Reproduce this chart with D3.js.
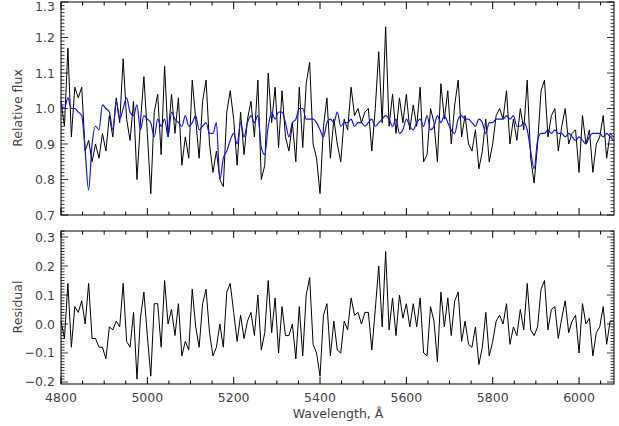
<!DOCTYPE html>
<html><head><meta charset="utf-8">
<script src="https://cdn.jsdelivr.net/npm/d3@7"></script>
<style>body{margin:0;background:#fff}svg{display:block}text{font-family:"DejaVu Sans",sans-serif;fill:#444}</style>
</head><body><svg id="c" width="619" height="426"></svg>
<script>
const wlStart = 4800, wlStep = 8;
const flux = [
1.02,0.95,1.17,0.92,1.06,1.03,1.06,0.88,0.91,0.85,
0.90,0.86,0.93,0.88,0.98,0.92,1.03,0.96,1.14,0.97,
0.91,1.02,0.80,0.96,1.09,0.93,0.76,0.99,1.04,0.87,
1.12,0.92,1.04,0.93,1.03,0.84,0.92,0.86,1.08,0.97,
0.86,1.02,1.08,0.90,0.82,0.88,0.80,0.78,0.99,1.05,
0.97,0.84,0.99,0.87,0.97,1.02,0.92,1.08,0.80,0.84,
1.10,0.96,1.06,0.89,1.05,0.92,0.88,0.96,0.85,1.06,
0.89,1.07,1.13,0.90,0.86,0.76,0.95,1.03,0.86,0.97,
0.90,0.85,0.97,0.94,1.06,0.98,1.00,0.96,0.99,1.00,
0.88,1.00,1.16,0.96,1.23,0.95,1.04,0.93,1.03,0.96,
1.04,0.94,1.01,0.95,1.06,0.85,0.87,1.00,0.96,0.85,
1.07,0.97,1.05,0.90,1.01,1.08,0.92,0.98,0.90,0.88,
0.94,0.83,0.88,0.97,0.85,0.90,0.98,1.00,0.97,1.05,
0.90,0.97,0.91,1.00,0.94,1.08,0.86,0.79,0.90,1.05,
1.08,0.92,0.98,1.00,0.88,0.95,1.00,0.90,0.93,0.94,
0.82,0.98,0.90,0.94,0.82,0.90,0.92,0.98,0.86,0.93,
0.92];
const model = [
1.01,1.00,1.03,1.00,1.00,0.99,0.98,0.88,0.77,0.90,
0.95,0.94,1.01,1.00,0.99,0.94,1.02,0.97,1.00,1.03,
0.99,0.98,1.01,0.94,0.98,0.97,0.96,0.92,0.97,0.95,
0.97,0.92,0.99,0.97,0.96,0.95,0.98,0.95,0.96,0.98,
0.94,0.95,0.96,0.93,0.93,0.96,0.80,0.86,0.88,0.91,
0.93,0.90,0.96,0.92,0.96,0.98,0.96,0.98,0.89,0.87,
0.95,0.99,0.97,0.99,0.99,0.96,0.92,0.96,0.97,1.00,
1.00,0.97,0.97,0.97,0.96,0.94,0.92,0.96,0.97,0.96,
0.99,0.95,0.96,0.96,0.97,0.95,0.96,0.96,0.95,0.96,
0.97,0.95,0.96,0.97,0.98,0.97,0.95,0.97,0.93,0.94,
0.97,0.95,0.94,0.96,0.97,0.95,0.98,0.94,0.95,0.98,
0.96,0.98,0.96,0.94,0.93,0.97,0.98,0.97,0.97,0.96,
0.95,0.97,0.96,0.93,0.96,0.96,0.97,0.97,0.97,0.98,
0.97,0.98,0.95,0.95,0.96,0.94,0.88,0.83,0.91,0.93,
0.93,0.94,0.93,0.94,0.93,0.93,0.92,0.93,0.92,0.91,
0.92,0.91,0.90,0.92,0.93,0.93,0.93,0.92,0.93,0.92,
0.91];
const residual = [
0.01,-0.05,0.14,-0.08,0.06,0.04,0.08,0.00,0.14,-0.05,
-0.05,-0.08,-0.08,-0.12,-0.01,-0.02,0.01,-0.01,0.14,-0.06,
-0.08,0.04,-0.19,0.02,0.11,-0.04,-0.18,0.07,0.07,-0.08,
0.15,0.00,0.05,-0.04,0.07,-0.11,-0.06,-0.09,0.12,-0.01,
-0.08,0.07,0.12,-0.03,-0.11,-0.08,0.00,-0.08,0.11,0.14,
0.04,-0.06,0.03,-0.05,0.01,0.04,-0.04,0.10,-0.09,-0.03,
0.15,-0.03,0.09,-0.10,0.06,-0.04,-0.04,0.00,-0.12,0.06,
-0.11,0.10,0.16,-0.07,-0.10,-0.18,0.03,0.07,-0.11,0.01,
-0.09,-0.10,0.01,-0.02,0.09,0.03,0.04,0.00,0.04,0.04,
-0.09,0.05,0.20,-0.01,0.25,-0.02,0.09,-0.04,0.10,0.02,
0.07,-0.01,0.07,-0.01,0.09,-0.10,-0.11,0.06,0.01,-0.13,
0.11,-0.01,0.09,-0.04,0.08,0.11,-0.06,0.01,-0.07,-0.08,
-0.01,-0.14,-0.08,0.04,-0.11,-0.06,0.01,0.03,0.00,0.07,
-0.07,-0.01,-0.04,0.05,-0.02,0.14,-0.02,-0.04,-0.01,0.12,
0.15,-0.02,0.05,0.06,-0.05,0.02,0.08,-0.03,0.01,0.03,
-0.10,0.07,0.00,0.02,-0.11,-0.03,-0.01,0.06,-0.07,0.01,
0.01];
const xTicks = [4800,5000,5200,5400,5600,5800,6000];
const fluxTicks = [0.7,0.8,0.9,1.0,1.1,1.2,1.3];
const resTicks = [-0.2,-0.1,0.0,0.1,0.2,0.3];

const svg = d3.select("#c");
const L=61,R=614;
const x = d3.scaleLinear().domain([4800,6081]).range([L,R]);
const yT = d3.scaleLinear().domain([0.7,1.3]).range([215,2]);
const yB = d3.scaleLinear().domain([-0.2069,0.3207]).range([384,231]);
const wl = i => wlStart + i*wlStep;

function frame(y, yt, showX){
  const g = svg.append("g");
  const [y0,y1]=y.range();
  g.append("rect").attr("x",L).attr("y",y1).attr("width",R-L).attr("height",y0-y1).attr("fill","none").attr("stroke","#000").attr("stroke-width",1);
  d3.range(4800,6081,50).forEach(v=>{
    const major = xTicks.includes(v), len = major?7:3.5;
    g.append("line").attr("x1",x(v)).attr("x2",x(v)).attr("y1",y0).attr("y2",y0-len).attr("stroke","#000");
    g.append("line").attr("x1",x(v)).attr("x2",x(v)).attr("y1",y1).attr("y2",y1+len).attr("stroke","#000");
  });
  const d=y.domain();
  d3.range(Math.ceil(d[0]*100-1e-6), Math.floor(d[1]*100+1e-6)+1).map(v=>v/100).forEach(v=>{
    const major = yt.some(t=>Math.abs(t-v)<1e-6), len = major?7:3.5;
    g.append("line").attr("x1",L).attr("x2",L+len).attr("y1",y(v)).attr("y2",y(v)).attr("stroke","#000").attr("stroke-width",0.8);
    g.append("line").attr("x1",R).attr("x2",R-len).attr("y1",y(v)).attr("y2",y(v)).attr("stroke","#000").attr("stroke-width",0.8);
  });
  yt.forEach(t=>{
    g.append("text").attr("x",L-6).attr("y",Math.max(y(t)+4.5,11)).attr("text-anchor","end").attr("font-size",12.5)
      .text(d3.format(".1f")(t).replace("-","\u2212"));
  });
  if(showX){
    xTicks.forEach(t=>g.append("text").attr("x",x(t)).attr("y",y0+18).attr("text-anchor","middle").attr("font-size",12.5).text(t));
  }
}
frame(yT, fluxTicks, false);
frame(yB, resTicks, true);

const idx = d3.range(flux.length);
svg.append("path").datum(idx).attr("fill","none").attr("stroke","#000").attr("stroke-width",1)
  .attr("d",d3.line().x(i=>x(wl(i))).y(i=>yT(flux[i])));
svg.append("path").datum(idx).attr("fill","none").attr("stroke","#1515ee").attr("stroke-width",1.2)
  .attr("d",d3.line().curve(d3.curveMonotoneX).x(i=>x(wl(i))).y(i=>yT(model[i])));
svg.append("path").datum(idx).attr("fill","none").attr("stroke","#000").attr("stroke-width",1)
  .attr("d",d3.line().x(i=>x(wl(i))).y(i=>yB(residual[i])));

svg.append("text").attr("transform","translate(22,108) rotate(-90)").attr("text-anchor","middle").attr("font-size",12.5).text("Relative flux");
svg.append("text").attr("transform","translate(22,307) rotate(-90)").attr("text-anchor","middle").attr("font-size",12.5).text("Residual");
svg.append("text").attr("x",338).attr("y",418).attr("text-anchor","middle").attr("font-size",12.5).text("Wavelength, \u00c5");
</script></body></html>
